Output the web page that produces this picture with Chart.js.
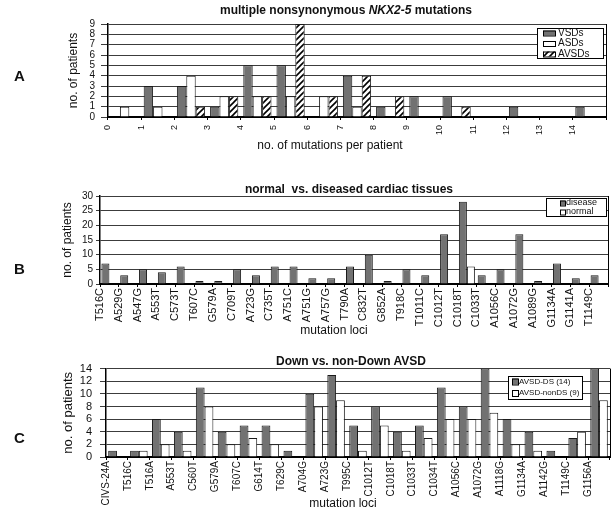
<!DOCTYPE html>
<html>
<head>
<meta charset="utf-8">
<script src="https://cdn.jsdelivr.net/npm/chart.js@4.4.0/dist/chart.umd.min.js"></script>
<style>
  html, body { margin: 0; padding: 0; background: #fff; overflow: hidden; }
  body { width: 613px; height: 508px; position: relative; font-family: "Liberation Sans", Arial, sans-serif; color: #111; }
  canvas { position: absolute; left: 0; }
  .panel { position: absolute; left: 14px; font-weight: bold; font-size: 15px; }
  .title { position: absolute; width: 400px; text-align: center; font-weight: bold; font-size: 12px; white-space: pre; }
  .xtitle { position: absolute; width: 300px; text-align: center; font-size: 12px; }
</style>
</head>
<body>
<canvas id="chartA" width="613" height="128" style="top:12px"></canvas>
<canvas id="chartB" width="613" height="141" style="top:187px"></canvas>
<canvas id="chartC" width="613" height="154" style="top:354px"></canvas>

<div class="panel" style="top:67px">A</div>
<div class="panel" style="top:260px">B</div>
<div class="panel" style="top:429px">C</div>

<div class="title" style="left:146px; top:3px">multiple nonsynonymous <i>NKX2-5</i> mutations</div>
<div class="title" style="left:149px; top:182px">normal  vs. diseased cardiac tissues</div>
<div class="title" style="left:151px; top:354px">Down vs. non-Down AVSD</div>

<div class="xtitle" style="left:180px; top:138px">no. of mutations per patient</div>
<div class="xtitle" style="left:184px; top:323px">mutation loci</div>
<div class="xtitle" style="left:193px; top:496px">mutation loci</div>

<script>
// --- panel A data
const mutationCounts = ['0', '1', '2', '3', '4', '5', '6', '7', '8', '9', '10', '11', '12', '13', '14'];
const vsdPatients  = [0, 3, 3, 1, 5, 5, 0, 4, 1, 2, 2, 0, 1, 0, 1];
const asdPatients  = [1, 1, 4, 2, 2, 2, 2, 1, 0, 0, 0, 0, 0, 0, 0];
const avsdPatients = [0, 0, 1, 2, 2, 9, 2, 4, 2, 0, 1, 0, 0, 0, 0];

// --- panel B data
const tissueLoci = ['T516C', 'A529G', 'A547G', 'A553T', 'C573T', 'T607C', 'G579A', 'C709T', 'A723G',
  'C735T', 'A751C', 'A751G', 'A757G', 'T790A', 'C832T', 'G852A', 'T918C', 'T1011C', 'C1012T',
  'C1018T', 'C1033T', 'A1056C', 'A1072G', 'A1089G', 'G1134A', 'G1141A', 'T1149C'];
const diseasePatients = [7, 3, 5, 4, 6, 1, 1, 5, 3, 6, 6, 2, 2, 6, 10, 1, 5, 3, 17, 28, 3, 5, 17, 1, 7, 2, 3];
const normalPatients  = [0, 0, 0, 0, 0, 0, 0, 0, 0, 0, 0, 0, 0, 0, 0, 0, 0, 0, 0, 6, 0, 0, 0, 0, 0, 0, 0];

// --- panel C data
const avsdLoci = ['CIVS-24A', 'T516C', 'T516A', 'A553T', 'C560T', 'G579A', 'T607C', 'G614T', 'T629C',
  'A704G', 'A723G', 'T995C', 'C1012T', 'C1018T', 'C1033T', 'C1034T', 'A1056C', 'A1072G', 'A1118G',
  'G1134A', 'A1142G', 'T1149C', 'G1156A'];
const downPatients    = [1, 1, 6, 4, 11, 4, 5, 5, 1, 10, 13, 5, 8, 4, 5, 11, 8, 14, 6, 4, 1, 3, 14];
const nonDownPatients = [0, 1, 2, 1, 8, 2, 3, 2, 0, 8, 9, 1, 5, 1, 3, 6, 6, 7, 2, 1, 0, 4, 9];

const FONT = "'Liberation Sans', Arial, sans-serif";
const GRAY = '#727272';
const EDGE = '#1a1a1a';
const GRID = '#3c3c3c';

// diagonal hatch for the AVSD bars
function makeHatch(ctx) {
  const c = document.createElement('canvas');
  c.width = 6; c.height = 6;
  const g = c.getContext('2d');
  g.fillStyle = '#fff';
  g.fillRect(0, 0, 6, 6);
  g.strokeStyle = '#000';
  g.lineWidth = 1.6;
  g.beginPath();
  g.moveTo(0, 6); g.lineTo(6, 0);
  g.moveTo(-3, 3); g.lineTo(3, -3);
  g.moveTo(3, 9); g.lineTo(9, 3);
  g.stroke();
  return ctx.createPattern(c, 'repeat');
}

// boxed legend drawn inside the plot, like the original figure
const boxLegend = {
  id: 'boxLegend',
  afterDraw(chart, args, o) {
    const ctx = chart.ctx;
    ctx.save();
    ctx.fillStyle = '#fff';
    ctx.fillRect(o.x, o.y, o.w, o.h);
    ctx.strokeStyle = '#000';
    ctx.lineWidth = 1;
    ctx.strokeRect(o.x + 0.5, o.y + 0.5, o.w, o.h);
    ctx.font = o.font;
    ctx.textBaseline = 'middle';
    chart.data.datasets.forEach((ds, i) => {
      const cy = o.y + o.padTop + i * o.row;
      ctx.fillStyle = ds.backgroundColor;
      ctx.fillRect(o.x + o.swX, cy - o.swH / 2, o.swW, o.swH);
      ctx.strokeStyle = '#000';
      ctx.strokeRect(o.x + o.swX + 0.5, cy - o.swH / 2 + 0.5, o.swW, o.swH);
      ctx.fillStyle = '#111';
      ctx.fillText(ds.label, o.x + o.txtX, cy);
    });
    ctx.restore();
  }
};

// right-hand wall of the plot box
const frame = {
  id: 'frame',
  beforeDatasetsDraw(chart) {
    const { ctx, chartArea: a } = chart;
    ctx.save();
    ctx.strokeStyle = '#000';
    ctx.lineWidth = 1;
    ctx.beginPath();
    ctx.moveTo(a.right + 0.5, a.top);
    ctx.lineTo(a.right + 0.5, a.bottom);
    ctx.stroke();
    ctx.restore();
  }
};

function yAxis(max, step, width, tickLen, pad, size, titleSize) {
  return {
    min: 0, max: max,
    afterFit: s => { s.width = width; },
    ticks: { stepSize: step, autoSkip: false, padding: pad, color: '#111', font: { family: FONT, size: size } },
    grid: { color: GRID, lineWidth: 1, tickLength: tickLen },
    border: { color: '#000', width: 1.5 },
    title: { display: true, text: 'no. of patients', color: '#111', font: { family: FONT, size: titleSize } }
  };
}

function xAxis(height, offset, size, pad) {
  return {
    afterFit: s => { s.height = height; },
    ticks: {
      minRotation: 90, maxRotation: 90, autoSkip: false, labelOffset: offset,
      padding: pad, color: '#111', font: { family: FONT, size: size }
    },
    grid: { drawOnChartArea: false, tickLength: 3, color: '#000' },
    border: { color: '#000', width: 2 }
  };
}

function bars(label, data, fill) {
  return { label: label, data: data, backgroundColor: fill, borderColor: EDGE, borderWidth: 1 };
}

function baseOptions(padding, legendBox, x, y, catPct) {
  return {
    responsive: false,
    animation: false,
    events: [],
    layout: { padding: padding },
    datasets: { bar: { categoryPercentage: catPct, barPercentage: 1.0 } },
    plugins: { legend: { display: false }, tooltip: { enabled: false }, boxLegend: legendBox },
    scales: { x: x, y: y }
  };
}

// ---- A
const ctxA = document.getElementById('chartA').getContext('2d');
new Chart(ctxA, {
  type: 'bar',
  data: {
    labels: mutationCounts,
    datasets: [
      bars('VSDs', vsdPatients, GRAY),
      bars('ASDs', asdPatients, '#ffffff'),
      bars('AVSDs', avsdPatients, makeHatch(ctxA))
    ]
  },
  options: baseOptions(
    { left: 62, right: 7, top: 0, bottom: 0 },
    { x: 537, y: 16, w: 66, h: 30, padTop: 5, row: 10.5, swX: 6, swW: 12, swH: 5, txtX: 21, font: '10px ' + FONT },
    xAxis(23, -16.6, 9, 5),
    yAxis(9, 1, 46, 7, 6, 10, 12),
    0.85
  ),
  plugins: [boxLegend, frame]
});

// ---- B
new Chart(document.getElementById('chartB'), {
  type: 'bar',
  data: {
    labels: tissueLoci,
    datasets: [
      bars('disease', diseasePatients, GRAY),
      bars('normal', normalPatients, '#ffffff')
    ]
  },
  options: baseOptions(
    { left: 56, right: 5, top: 0, bottom: 0 },
    { x: 546, y: 11, w: 60, h: 18, padTop: 5, row: 9, swX: 14, swW: 5, swH: 5, txtX: 20, font: '9px ' + FONT },
    xAxis(44, -9.4, 11, 1),
    yAxis(30, 5, 44, 4, 3, 10, 12),
    0.85
  ),
  plugins: [boxLegend, frame]
});

// ---- C
new Chart(document.getElementById('chartC'), {
  type: 'bar',
  data: {
    labels: avsdLoci,
    datasets: [
      bars('AVSD-DS (14)', downPatients, GRAY),
      bars('AVSD-nonDS (9)', nonDownPatients, '#ffffff')
    ]
  },
  options: baseOptions(
    { left: 57, right: 3, top: 0, bottom: 0 },
    { x: 508, y: 22, w: 74, h: 23, padTop: 5.5, row: 11.5, swX: 4, swW: 6, swH: 6, txtX: 11, font: '8px ' + FONT },
    xAxis(51, -11, 10, 1),
    yAxis(14, 2, 49, 6, 8, 11, 13),
    0.8
  ),
  plugins: [boxLegend, frame]
});
</script>
</body>
</html>
